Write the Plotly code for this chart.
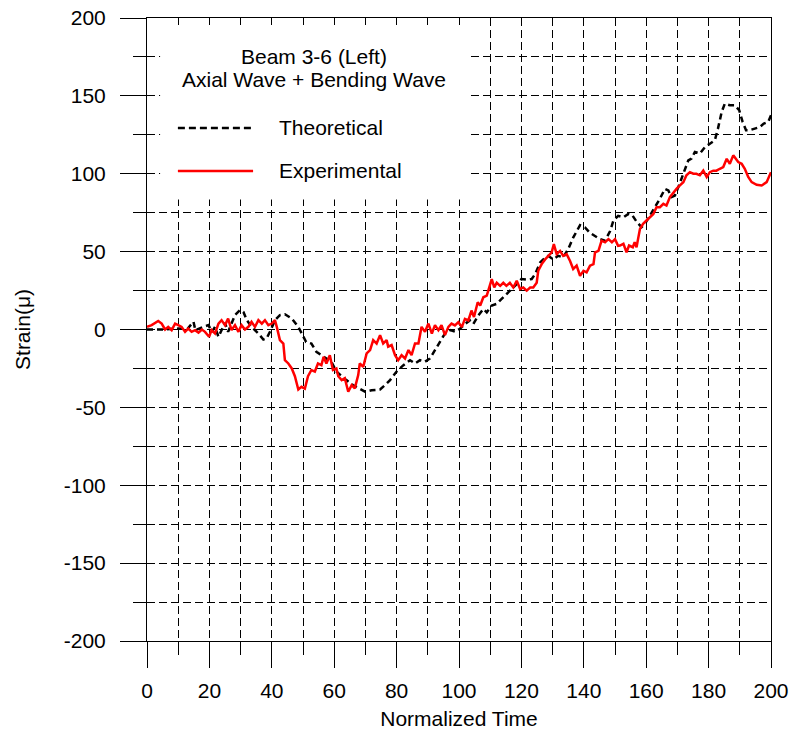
import plotly.graph_objects as go

# Theoretical strain (black dashed)
theo_t = [0, 4.7, 10, 13, 14.9, 15.5, 18, 19.7, 20.8, 21.8, 22.9, 23.9, 25, 26, 27,
          28.2, 29.8, 30.9, 32, 33.5, 35.7, 37.3, 38.3, 39.4, 41, 42.6, 44.2, 46.4,
          48.5, 50.1, 51, 52.7, 54.3, 55.9, 57.5, 59.1, 60.7, 62.3, 63.9, 66, 68.2,
          70, 72, 74.7, 76.3, 77.9, 80, 82.2, 84.3, 85.9, 87.5, 89.1, 90.7, 92.3,
          93.9, 95.5, 97.2, 98.8, 100.3, 101.9, 103.5, 104.6, 106.2, 107.8, 108.9,
          110.5, 112, 113.7, 115.3, 116.9, 118.5, 120, 121.7, 123.3, 124.4, 126,
          127, 128.6, 130.2, 131.8, 133.4, 135, 136.6, 138.8, 140.4, 142, 143.6,
          145.2, 146.8, 148.4, 149.5, 151, 152.7, 154.3, 155.5, 157, 158.5, 159.6,
          161.2, 162.8, 164.4, 166, 167.1, 168.1, 169.2, 170.3, 171.9, 173.5, 174.5,
          175.6, 177.2, 178.8, 180.4, 182, 183, 184.2, 185.2, 186.8, 188.4, 189.8,
          190.9, 192, 193.2, 194.8, 196.4, 197.7, 199.1, 200]
theo_v = [0, 0, 0.6, 0.5, 5, -0.5, 1.7, 2.8, -1.5, 1.7, -4.7, 0, 4.2, -1.5, 3.8,
          9.2, 12.4, 11.3, 6, 1.7, -2.6, -6.4, -5.8, -1.5, 6, 9.2, 9.8, 7,
          1.7, -4, -8, -9, -14.3, -16.5, -18.6, -20.7, -27, -30, -32.5, -35.7, -37.8,
          -40, -39, -38.5, -35.7, -32.5, -27, -22.9, -19.7, -21.8, -19.7, -20.7, -18.6, -13.2,
          -8, -2.6, -0.4, -1.5, 0.5, 3.6, 5.8, 3.6, 9, 13.2, 11,
          15.4, 16.4, 19.6, 22.8, 26, 29.2, 32.4, 32, 32.4, 35.6, 43,
          45, 47.3, 45, 47.3, 46.3, 51.6, 59, 67, 65.5, 62, 60,
          58, 57, 63, 70, 73, 72, 74.2, 73.5, 69, 65.7, 67.8,
          73.2, 78.5, 84, 90.3, 89.3, 85, 86, 91.4, 100, 108.6, 109.7,
          114, 113, 117, 119.3, 121.5, 129, 139.7, 145, 144, 144, 140.8,
          133.3, 128, 128, 129, 130, 132.2, 133.3, 137.5]

# Experimental strain (red solid)
exp_t = [0, 1.5, 3.6, 4.7, 5.8, 6.8, 7.9, 9, 10, 11.1, 12.2, 13.2, 14.3, 15.4, 16.5,
         17.6, 18.6, 19.9, 20.7, 21.8, 22.9, 23.9, 25, 26, 27.1, 28.2, 29.3, 30.3,
         31.4, 32.5, 33.5, 34.6, 35.7, 36.8, 37.8, 38.9, 40, 41, 41.6, 42.1, 42.6,
         43.7, 44.2, 45.3, 46.4, 47.4, 48.5, 49.5, 50.6, 51.6, 52.7, 53.8, 54.8,
         55.9, 56.6, 57.5, 58.6, 59.6, 60.7, 61.3, 62.4, 63.4, 64.5, 65.6, 66.6,
         67.7, 68.2, 69.3, 70.4, 71.5, 72.5, 73.6, 74.7, 75.7, 76.8, 77.3, 78.4,
         79.5, 80.5, 81.6, 82.7, 83.8, 84.8, 85.9, 87, 88, 89.1, 90.2, 91.3, 92.3,
         93.4, 94.4, 95.5, 96.6, 97.6, 98.7, 99.8, 100.9, 101.9, 103, 104, 104.8,
         106, 106.8, 107.8, 108.9, 109.9, 110.5, 111.3, 112.1, 113.2, 114.2, 115.2,
         116.3, 117.4, 118.5, 119.6, 120.6, 121.7, 122.8, 123.8, 124.9, 125.4,
         126.5, 127.6, 128.6, 129.7, 130.4, 131.3, 132.4, 133.4, 134.5, 135.6,
         136.6, 137.7, 138.8, 139.9, 140.9, 142, 143.1, 143.6, 144.7, 145.7, 146.8,
         147.9, 149, 150, 151, 151.6, 152.7, 153.7, 154.5, 155.7, 156.3, 156.9,
         158, 159, 160.1, 161.2, 162.3, 163.3, 164.4, 165.5, 166.5, 167.6, 168.7,
         169.7, 170.8, 171.9, 172.9, 174, 175.1, 176.1, 177.2, 178.3, 179.4, 180.4,
         181.5, 182.5, 183.6, 184.7, 185.8, 186.8, 187.9, 188.7, 189.5, 190.6,
         191.6, 192.7, 193.8, 195.4, 197, 198.6, 200]
exp_v = [1.7, 2.8, 5.5, 3.8, 0, 1.7, -0.4, 3.8, 2.8, 1.7, -1.5, 0.6, -1.5, -0.4, -2,
         0, -1.5, -4.7, -0.4, -2.6, 3.8, 6, 2.8, 7, -0.4, 2.8, -1.5, 2.8,
         0, 1.7, 4.9, 1.7, 6, 3.8, 6, 2.8, 3.8, 6, 1.7, -2.6, -6.8,
         -9, -19.7, -21.8, -25, -30, -38.5, -36.8, -38, -30, -26, -27, -21.8,
         -22.9, -17.5, -21.8, -16.5, -26, -25, -30, -32.5, -31.3, -40, -35.7, -37.8,
         -29.3, -21.8, -24, -15.4, -13.2, -6.8, -9, -3.6, -9, -6.8, -11, -10,
         -16.5, -19.7, -16.5, -18.6, -13.2, -16.5, -9, -9, 1.7, -1.5, 3.8, -2.6, 2.8,
         -0.4, 2.8, -3.6, 1.7, 3.8, 2.6, 4.7, 1.5, 6.8, 5.8, 12.2, 8,
         17.5, 15.4, 20.7, 21.7, 28, 32.4, 27, 30, 28, 30, 28,
         30, 27, 31.3, 26, 27, 25, 27, 27, 30, 37.7,
         42, 45, 47.3, 49.5, 54.8, 48.4, 50.5, 47.3, 48.4, 44,
         38.8, 41, 34.5, 37.7, 36.7, 41, 42, 49.5, 50.5, 57, 56,
         58, 56, 58, 53.7, 53.9, 55, 49.6, 53.9, 52.8, 56, 52.8,
         64.6, 67.8, 70, 72, 74.2, 78.5, 78.5, 80.7, 79.6, 85, 88.2,
         90.3, 92.5, 94.6, 99, 101, 100, 100, 99, 102, 97.9, 101,
         102, 102, 103.2, 104.3, 109.6, 106.4, 111.8, 109.6, 107.5, 106.4,
         103.2, 97.9, 94.6, 92.9, 92.5, 94.6, 101]

# Axis tick positions and their labels (plain hyphen for negatives)
x_ticks = [0, 20, 40, 60, 80, 100, 120, 140, 160, 180, 200]
y_ticks = [-200, -150, -100, -50, 0, 50, 100, 150, 200]
y_tick_labels = ["-200", "-150", "-100", "-50", "0", "50", "100", "150", "200"]

FONT = "Liberation Sans, Arial, sans-serif"
FS = 21
GRID_DASH = "8px,4px"

fig = go.Figure()
fig.add_trace(go.Scatter(x=theo_t, y=theo_v, mode="lines", name="Theoretical",
                         line=dict(color="black", width=2.5, dash="6px,4px")))
fig.add_trace(go.Scatter(x=exp_t, y=exp_v, mode="lines", name="Experimental",
                         line=dict(color="#ff0000", width=2.5)))

# white panel behind the key, above the grid but under the curves
fig.add_shape(type="rect", xref="x", yref="y", x0=4.2, x1=102.9, y0=83.5, y1=195.5,
              fillcolor="white", line=dict(width=0), layer="between")
# key samples
fig.add_shape(type="line", xref="x", yref="y", x0=9.9, x1=34, y0=129.4, y1=129.4,
              line=dict(color="black", width=2.5, dash="7px,4px"))
fig.add_shape(type="line", xref="x", yref="y", x0=9.9, x1=34, y0=101.8, y1=101.8,
              line=dict(color="#ff0000", width=2.5))

txt = dict(family=FONT, size=FS, color="black")
fig.add_annotation(x=53.4, y=175, xref="x", yref="y", text="Beam 3-6 (Left)",
                   showarrow=False, font=txt, xanchor="center", yanchor="middle")
fig.add_annotation(x=53.4, y=160.2, xref="x", yref="y", text="Axial Wave + Bending Wave",
                   showarrow=False, font=txt, xanchor="center", yanchor="middle")
fig.add_annotation(x=41.7, y=129.4, xref="x", yref="y", text="Theoretical",
                   showarrow=False, font=txt, xanchor="left", yanchor="middle")
fig.add_annotation(x=41.7, y=101.8, xref="x", yref="y", text="Experimental",
                   showarrow=False, font=txt, xanchor="left", yanchor="middle")

axis_common = dict(
    showline=True, linecolor="black", linewidth=1, mirror=True,
    ticks="outside", ticklen=26, tickwidth=1, tickcolor="black",
    showgrid=True, gridcolor="black", gridwidth=1, griddash=GRID_DASH,
    zeroline=False, automargin=False,
    tickfont=dict(family=FONT, size=FS, color="black"),
)

fig.update_xaxes(range=[0, 200], tickmode="array", tickvals=x_ticks,
                 ticktext=[str(v) for v in x_ticks], ticklabelstandoff=5,
                 minor=dict(dtick=10, tick0=0, ticks="outside", ticklen=13, tickcolor="black",
                            tickwidth=1, showgrid=True, gridcolor="black",
                            griddash=GRID_DASH, gridwidth=1),
                 title=dict(text="Normalized Time", font=dict(family=FONT, size=FS, color="black"),
                            standoff=10),
                 **axis_common)
fig.update_yaxes(range=[-200, 200], tickmode="array", tickvals=y_ticks,
                 ticktext=y_tick_labels, ticklabelstandoff=10,
                 minor=dict(dtick=25, tick0=0, ticks="outside", ticklen=13, tickcolor="black",
                            tickwidth=1, showgrid=True, gridcolor="black",
                            griddash=GRID_DASH, gridwidth=1),
                 title=dict(text="Strain(μ)", font=dict(family=FONT, size=FS, color="black"),
                            standoff=27),
                 **axis_common)

fig.update_layout(
    width=792, height=731,
    margin=dict(l=147, r=21, t=18, b=90),
    plot_bgcolor="white", paper_bgcolor="white",
    showlegend=False,
)

fig.write_html("out.html")
